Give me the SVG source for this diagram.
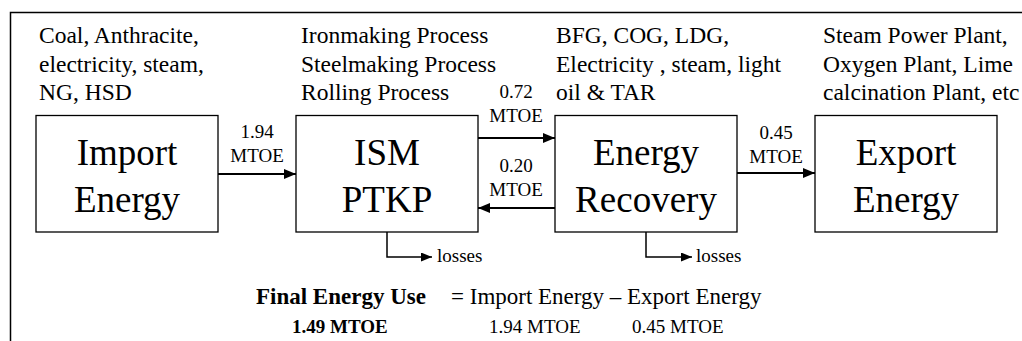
<svg xmlns="http://www.w3.org/2000/svg" width="1022" height="341" viewBox="0 0 1022 341">
<style>
text{font-family:'Liberation Serif','Tinos','Times New Roman',Times,'DejaVu Serif',serif;fill:#000}
.box{fill:#fff;stroke:#000;stroke-width:1.3}
.big{font-size:37px;text-anchor:middle}
.note{font-size:23.5px}
.lbl{font-size:19px;text-anchor:middle}
.arr{stroke:#000;stroke-width:2;fill:none}
.thin{stroke:#000;stroke-width:1.5;fill:none}
.frm{stroke:#000;stroke-width:1.5;fill:none}
</style>
<defs>
<marker id="ah" viewBox="0 0 12 10" refX="12" refY="5" markerWidth="12" markerHeight="10" markerUnits="userSpaceOnUse" orient="auto">
<path d="M0,0 L12,5 L0,10 Z" fill="#000"/>
</marker>
<marker id="ahs" viewBox="0 0 11 9" refX="11" refY="4.5" markerWidth="11" markerHeight="9" markerUnits="userSpaceOnUse" orient="auto">
<path d="M0,0 L11,4.5 L0,9 Z" fill="#000"/>
</marker>
</defs>
<path class="frm" d="M10.5,341 V12.5 H1022"/>
<g id="notes">
<text class="note" x="39" y="43">Coal, Anthracite,</text>
<text class="note" x="39" y="72">electricity, steam,</text>
<text class="note" x="39" y="100">NG, HSD</text>
<text class="note" x="301" y="43">Ironmaking Process</text>
<text class="note" x="301" y="72">Steelmaking Process</text>
<text class="note" x="301" y="100">Rolling Process</text>
<text class="note" x="556" y="43">BFG, COG, LDG,</text>
<text class="note" x="556" y="72">Electricity  , steam, light</text>
<text class="note" x="556" y="100">oil &amp; TAR</text>
<text class="note" x="823" y="43">Steam Power Plant,</text>
<text class="note" x="823" y="72">Oxygen Plant, Lime</text>
<text class="note" x="823" y="100">calcination Plant, etc</text>
</g>
<g id="import">
<rect class="box" x="36" y="115.5" width="182" height="116.5"/>
<text class="big" x="127" y="165">Import</text>
<text class="big" x="127" y="212">Energy</text>
</g>
<g id="ism">
<rect class="box" x="296" y="115.5" width="182" height="116.5"/>
<text class="big" x="387" y="165">ISM</text>
<text class="big" x="387" y="212">PTKP</text>
</g>
<g id="recovery">
<rect class="box" x="555" y="115.5" width="182" height="116.5"/>
<text class="big" x="646" y="165">Energy</text>
<text class="big" x="646" y="212">Recovery</text>
</g>
<g id="export">
<rect class="box" x="815" y="115.5" width="182" height="116.5"/>
<text class="big" x="906" y="165">Export</text>
<text class="big" x="906" y="212">Energy</text>
</g>
<g id="connectors">
<path class="arr" d="M218,174 H296" marker-end="url(#ah)"/>
<path class="arr" d="M478,138 H555" marker-end="url(#ah)"/>
<path class="arr" d="M555,208 H478" marker-end="url(#ah)"/>
<path class="arr" d="M737,173 H815" marker-end="url(#ah)"/>
<path class="thin" d="M387,232 V257 H432" marker-end="url(#ahs)"/>
<path class="thin" d="M646,232 V257 H692" marker-end="url(#ahs)"/>
<text class="lbl" x="257" y="138">1.94</text>
<text class="lbl" x="257" y="162">MTOE</text>
<text class="lbl" x="516" y="98">0.72</text>
<text class="lbl" x="516" y="122">MTOE</text>
<text class="lbl" x="516" y="172">0.20</text>
<text class="lbl" x="516" y="196">MTOE</text>
<text class="lbl" x="776" y="139">0.45</text>
<text class="lbl" x="776" y="163">MTOE</text>
<text x="437" y="262" font-size="19">losses</text>
<text x="696" y="262" font-size="19">losses</text>
</g>
<g id="formula">
<text x="256" y="304" font-size="23" font-weight="bold">Final Energy Use</text>
<text x="451" y="304" font-size="23">= Import Energy – Export Energy</text>
<text x="292" y="333" font-size="19" font-weight="bold">1.49 MTOE</text>
<text x="489" y="333" font-size="19">1.94 MTOE</text>
<text x="632" y="333" font-size="19">0.45 MTOE</text>
</g>
</svg>
